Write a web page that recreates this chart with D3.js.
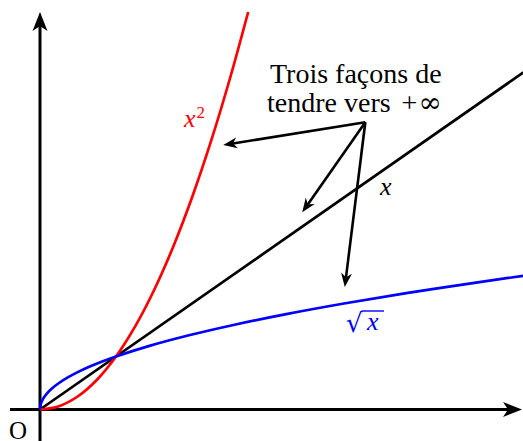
<!DOCTYPE html>
<html><head><meta charset="utf-8">
<script src="https://cdn.jsdelivr.net/npm/d3@7"></script>
<style>body{margin:0;background:#fff}svg{display:block}</style>
</head><body><svg id="c" width="523" height="441"></svg>
<script>
// x^2
const sqX   = [0, 0.25, 0.5, 0.75, 1, 1.25, 1.5, 1.75, 2, 2.25, 2.5, 2.739];
const sqY   = [0, 0.0625, 0.25, 0.5625, 1, 1.5625, 2.25, 3.0625, 4, 5.0625, 6.25, 7.5];
// y = x (black line)
const idX   = [0, 6.36];
const idY   = [0, 6.36];
// sqrt(x)
const rtX   = [0, 0.01, 0.04, 0.09, 0.16, 0.25, 0.36, 0.49, 0.64, 0.81, 1, 1.44, 1.96, 2.56, 3.24, 4, 4.84, 5.76, 6.36];
const rtY   = [0, 0.1, 0.2, 0.3, 0.4, 0.5, 0.6, 0.7, 0.8, 0.9, 1, 1.2, 1.4, 1.6, 1.8, 2, 2.2, 2.4, 2.522];
// annotation
const noteLine1 = "Trois façons de";
const noteLine2 = ["tendre vers ", "+", "∞"];
const arrowFrom = [4.28, 5.42];
const arrowTo   = [[2.41, 4.99], [3.45, 3.72], [4.01, 2.31]];

const svg = d3.select("#c");
const x = d3.scaleLinear().domain([0, 6.36]).range([40, 523.4]);
const y = d3.scaleLinear().domain([0, 7.5]).range([409.5, 12]);

const defs = svg.append("defs");
defs.append("marker").attr("id","bigArrow").attr("markerUnits","userSpaceOnUse")
  .attr("viewBox","-20 -8 21 16").attr("refX",0).attr("refY",0)
  .attr("markerWidth",21).attr("markerHeight",16).attr("orient","auto")
  .append("path").attr("d","M0,0 L-19,-7.5 L-14,0 L-19,7.5 Z").attr("fill","#000");
defs.append("marker").attr("id","smallArrow").attr("markerUnits","userSpaceOnUse")
  .attr("viewBox","-15 -7 16 14").attr("refX",0).attr("refY",0)
  .attr("markerWidth",16).attr("markerHeight",14).attr("orient","auto")
  .append("path").attr("d","M0,0 L-14,-5.5 L-10,0 L-14,5.5 Z").attr("fill","#000");

function arrowLine(x1,y1,x2,y2,back,marker,w){
  const dx=x2-x1, dy=y2-y1, L=Math.hypot(dx,dy);
  const ex=x2-dx/L*back, ey=y2-dy/L*back;
  svg.append("path").attr("d",`M${x1},${y1}L${ex},${ey}`)
    .attr("stroke","#000").attr("stroke-width",w).attr("fill","none");
  svg.append("path").attr("d",`M${ex},${ey}L${x2},${y2}`)
    .attr("stroke","none").attr("fill","none").attr("marker-end",`url(#${marker})`);
}

// axes
arrowLine(x(-0.395), y(0), 522, y(0), 13, "bigArrow", 3);
arrowLine(x(0), 441, x(0), 12, 13, "bigArrow", 3);

const line = d3.line().x(d=>x(d[0])).y(d=>y(d[1])).curve(d3.curveCatmullRom);
svg.append("path").attr("d", line(d3.zip(idX,idY))).attr("stroke","#000").attr("stroke-width",2.7).attr("fill","none");
svg.append("path").attr("d", line(d3.zip(sqX,sqY))).attr("stroke","#ff0000").attr("stroke-width",2.7).attr("fill","none");
svg.append("path").attr("d", line(d3.zip(rtX,rtY))).attr("stroke","#0000ff").attr("stroke-width",2.7).attr("fill","none");

// annotation arrows
arrowTo.forEach(t=>arrowLine(x(arrowFrom[0]), y(arrowFrom[1]), x(t[0]), y(t[1]), 10, "smallArrow", 2.6));

const serif = "'Liberation Serif', 'Times New Roman', serif";
// note text
svg.append("text").attr("x",270).attr("y",83)
  .attr("font-family", serif).attr("font-size", 28).attr("fill","#000").text(noteLine1);
const l2 = svg.append("text").attr("x",267).attr("y",112)
  .attr("font-family", serif).attr("font-size", 28).attr("fill","#000");
l2.append("tspan").text(noteLine2[0]);
l2.append("tspan").attr("dx",4).text(noteLine2[1]);
l2.append("tspan").attr("dx",1).attr("font-family","'DejaVu Serif', serif").attr("font-size",28).text(noteLine2[2]);
// origin
svg.append("text").attr("x",9).attr("y",439).attr("font-family",serif).attr("font-size",25).text("O");

// x^2 label
const t2 = svg.append("text").attr("x",184).attr("y",127).attr("font-family",serif).attr("font-size",26).attr("fill","#ff0000");
t2.append("tspan").attr("font-style","italic").text("x");
t2.append("tspan").attr("font-size",17).attr("dy",-9).attr("dx",1).text("2");
// x label
svg.append("text").attr("x",380).attr("y",195).attr("font-family",serif).attr("font-size",26).attr("font-style","italic").text("x");
// sqrt x label
const g = svg.append("g").attr("fill","#0000ff");
const rad = g.append("text").attr("x",346).attr("y",332).attr("font-family","'DejaVu Serif', serif").attr("font-size",26).text("√");
g.append("text").attr("x",367).attr("y",330).attr("font-family",serif).attr("font-size",26).attr("font-style","italic").text("x");
const rb = rad.node().getBBox();
g.append("line").attr("x1",rb.x+rb.width-1.5).attr("x2",384).attr("y1",311).attr("y2",311).attr("stroke","#0000ff").attr("stroke-width",1.4);
</script></body></html>
